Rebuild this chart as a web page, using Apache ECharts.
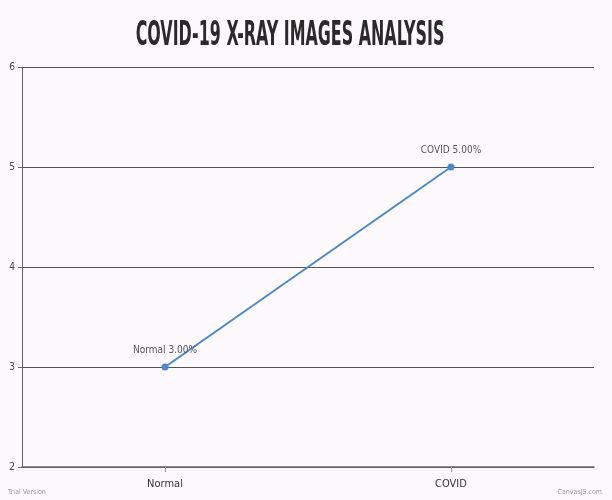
<!DOCTYPE html>
<html><head><meta charset="utf-8">
<script src="https://cdn.jsdelivr.net/npm/echarts@6/dist/echarts.min.js"></script>
<style>html,body{margin:0;padding:0;background:#fdf9fc;}#c{width:612px;height:500px;}</style>
</head><body><div id="c"></div>
<script>
const categories = ['Normal', 'COVID'];
const values = [3, 5];
const yTicks = [2, 3, 4, 5, 6];
const titleText = 'COVID-19 X-RAY IMAGES ANALYSIS';

const chart = echarts.init(document.getElementById('c'));
chart.setOption({
  backgroundColor: '#fdf9fc',
  animation: false,
  grid: { left: 22, right: 18, top: 67, bottom: 33 },
  xAxis: {
    type: 'category', data: categories, boundaryGap: true,
    axisLine: { lineStyle: { color: '#666', width: 1.5 } },
    axisTick: { show: true, alignWithLabel: true, length: 5, lineStyle: { color: '#999' } },
    axisLabel: { color: '#333', fontFamily: 'DejaVu Sans Condensed, sans-serif', fontSize: 11, margin: 12 }
  },
  yAxis: {
    type: 'value', min: yTicks[0], max: yTicks[yTicks.length - 1], interval: 1,
    axisLine: { show: true, lineStyle: { color: '#666' } },
    axisTick: { show: true, length: 4, lineStyle: { color: '#666' } },
    splitLine: { lineStyle: { color: '#555', width: 1 } },
    axisLabel: { color: '#444', fontFamily: 'DejaVu Sans Condensed, sans-serif', fontSize: 10, margin: 7 }
  },
  series: [{
    type: 'line', data: values,
    lineStyle: { color: '#4f88c6', width: 2 },
    itemStyle: { color: '#4f88c6' },
    symbol: 'circle', symbolSize: 7,
    label: {
      show: true, position: 'top', distance: 8,
      color: '#555', fontFamily: 'DejaVu Sans Condensed, sans-serif', fontSize: 10,
      formatter: p => p.name + ' ' + p.value.toFixed(2) + '%'
    }
  }],
  graphic: [
    { type: 'text', x: 290, y: 36, scaleX: 0.52, scaleY: 1,
      style: { text: titleText, align: 'center', verticalAlign: 'middle', fill: '#2a2a2a',
        font: 'bold 34px "DejaVu Sans Condensed", sans-serif' } },
    { type: 'text', left: 8, top: 489, style: { text: 'Trial Version', fill: '#999', fontSize: 7, fontFamily: 'DejaVu Sans Condensed' } },
    { type: 'text', right: 10, top: 489, style: { text: 'CanvasJS.com', fill: '#999', fontSize: 7, fontFamily: 'DejaVu Sans Condensed' } }
  ]
});
</script></body></html>
